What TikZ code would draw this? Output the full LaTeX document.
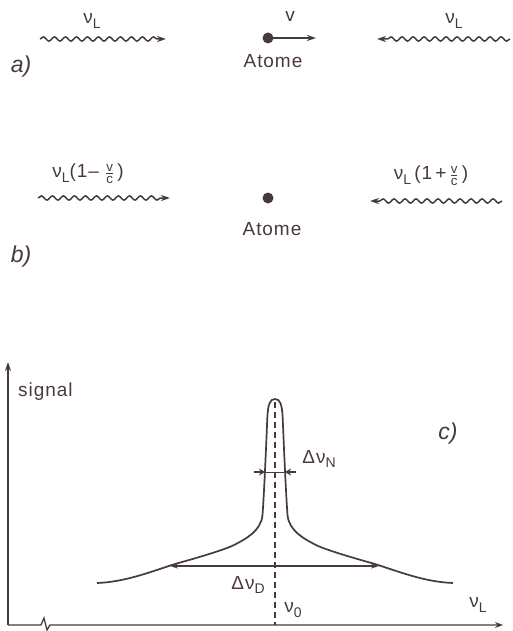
\documentclass[tikz,border=0pt]{standalone}
\usepackage{amsmath}
\usepackage{fontspec}
\setmainfont{Liberation Sans}
\usetikzlibrary{decorations.pathmorphing,arrows.meta}
\definecolor{ink}{RGB}{72,58,56}
\newcommand\lowsub[1]{\raisebox{-0.45ex}{\fontsize{14}{14}\selectfont #1}}
\newcommand\fvc{$\frac{\text{v}}{\text{c}}$}
\begin{document}
\begin{tikzpicture}[x=1pt,y=-1pt,
  lbl/.style={font=\fontsize{19}{19}\selectfont\addfontfeatures{LetterSpace=5}, text=ink, inner sep=0pt},
  part/.style={font=\fontsize{23}{23}\selectfont\itshape, text=ink, inner sep=0pt},
  wave/.style={ink, line width=1.5pt, decorate,
    decoration={snake, amplitude=2.1pt, segment length=11pt, post length=7pt},
    -{Stealth[length=9pt,width=6pt]}},
  arr/.style={ink, line width=1.6pt, -{Stealth[length=9pt,width=6pt]}},
  atom/.style={circle, fill=ink, inner sep=0pt, minimum size=11pt},
  thin/.style={ink, line width=1.3pt}]
\useasboundingbox (0,0) rectangle (513,631);

% ---------- a) ----------
\coordinate (aL1) at (40,39);
\coordinate (aL2) at (166,39);
\draw[wave] (aL1) -- (aL2);
\node[lbl] (aLlab) at (92,21) {ν\lowsub{L}};
\node[atom] (adot) at (268,38) {};
\coordinate (av) at (316,38);
\draw[arr] (adot.center) -- (av);
\node[lbl] (avlab) at (290,16) {v};
\node[lbl] (aatome) at (273,61) {Atome};
\coordinate (aR1) at (510,39);
\coordinate (aR2) at (377,39);
\draw[wave] (aR1) -- (aR2);
\node[lbl] (aRlab) at (454,21) {ν\lowsub{L}};
\node[part] (alab) at (21,67) {a)};

% ---------- b) ----------
\coordinate (bL1) at (38,198);
\coordinate (bL2) at (170,198);
\draw[wave] (bL1) -- (bL2);
\node[lbl] (bLlab) at (88,174) {ν\lowsub{L}(1– \fvc\,)};
\node[atom] (bdot) at (268,198) {};
\node[lbl] (batome) at (272,229) {Atome};
\coordinate (bR1) at (502,201);
\coordinate (bR2) at (370,201);
\draw[wave] (bR1) -- (bR2);
\node[lbl] (bRlab) at (431,176) {ν\lowsub{L}\,(1\,+\,\fvc\,)};
\node[part] (blab) at (21,257) {b)};

% ---------- c) ----------
\coordinate (O) at (8,625);
\coordinate (ytop) at (8,362);
\coordinate (xend) at (503,625);
\draw[arr, line width=1.3pt] (O) -- (ytop);
\draw[thin, -{Stealth[length=8pt,width=6pt]}] (O) -- (41,625) -- (44,618) -- (47,630) -- (50,625) -- (xend);
\node[lbl, anchor=west] (sig) at (18,392) {signal};
\node[part] (clab) at (448,434) {c)};

\draw[ink, line width=1.7pt]
  (97,583) .. controls (125,582) and (150,572) .. (175,564)
  .. controls (200,557) and (220,551) .. (232,546)
  .. controls (246,539) and (261,531) .. (262.5,515)
  .. controls (264,495) and (266,450) .. (267.3,418)
  .. controls (268,404) and (270,399) .. (275,399)
  .. controls (280,399) and (282,404) .. (282.7,418)
  .. controls (284,450) and (286,495) .. (287.5,515)
  .. controls (289,531) and (304,539) .. (318,546)
  .. controls (330,551) and (350,557) .. (375,564)
  .. controls (400,572) and (425,582) .. (453,583);

\coordinate (ctop) at (275,402);
\draw[ink, line width=1.2pt, dash pattern=on 6pt off 4pt] (ctop) -- (275,625);

% Doppler width
\coordinate (dL) at (170,566);
\coordinate (dR) at (379,566);
\draw[thin, {Stealth[length=8pt,width=5pt]}-{Stealth[length=8pt,width=5pt]}] (dL) -- (dR);
\node[lbl] (dlab) at (248,585) {Δν\lowsub{D}};

% natural width
\coordinate (nL0) at (254,472);
\coordinate (nL1) at (265,472);
\coordinate (nR0) at (296,472);
\coordinate (nR1) at (285,472);
\draw[thin, -{Stealth[length=6pt,width=7pt]}] (nL0) -- (nL1);
\draw[thin, -{Stealth[length=6pt,width=7pt]}] (nR0) -- (nR1);
\draw[ink, line width=1pt] (nL1) -- (nR1);
\node[lbl] (nlab) at (319,459) {Δν\lowsub{N}};

\node[lbl] (n0) at (293,610) {ν\lowsub{0}};
\node[lbl] (nxl) at (478,605) {ν\lowsub{L}};
\end{tikzpicture}
\end{document}
